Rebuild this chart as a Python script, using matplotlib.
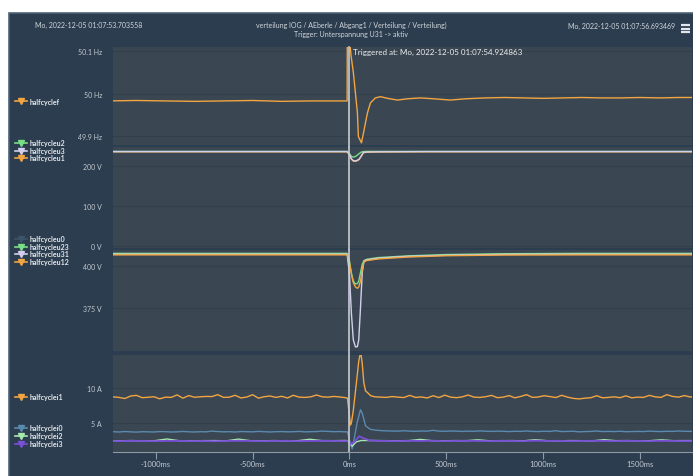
import matplotlib
matplotlib.use('Agg')
import matplotlib.pyplot as plt
from matplotlib.patches import Rectangle
import numpy as np

plt.rcParams['font.family'] = ['Lato', 'DejaVu Sans']

# ---- data (ms relative to trigger) ----
x_range = (-1221, 1769)
x_ticks = [-1000, -500, 0, 500, 1000, 1500]

# frequency
f_t = [-1250, -1100, -950, -800, -650, -500, -350, -200, -100, -12,
       -11, 2, 8, 20, 41, 46, 62, 72, 93, 108, 134, 160, 196, 248, 299,
       367, 434, 521, 600, 700, 800, 900, 1000, 1100, 1200, 1300, 1400,
       1500, 1600, 1700, 1800]
f_vals = [49.983, 49.984, 49.983, 49.982, 49.983, 49.984, 49.982, 49.983, 49.983, 49.983,
          50.13, 50.12, 50.09, 50.05, 49.956, 49.90, 49.885, 49.907, 49.955, 49.978,
          49.990, 49.993, 49.989, 49.985, 49.988, 49.990, 49.988, 49.985, 49.988,
          49.990, 49.991, 49.990, 49.989, 49.990, 49.991, 49.990, 49.990, 49.991,
          49.990, 49.991, 49.991]

# phase voltages
u_ph_t = [-1250, -600, -12, 0, 10, 21, 35, 50, 62, 72, 90, 150, 400, 900, 1800]
u1_vals = [235.5, 235.5, 235.5, 228, 217, 212, 212, 216, 225, 233, 234.5, 235, 235.5, 235.5, 235.5]
u2_vals = [236.5, 236.5, 236.5, 231, 224, 222, 225, 231, 235, 236, 236.5, 236.5, 236.5, 236.5, 236.5]
u3_vals = [236, 236, 236, 229, 218, 213, 213, 217, 226, 234, 235, 235.5, 236, 236, 236]

# line voltages
u_ll_t = [-1250, -600, -12, 0, 10, 20, 31, 41, 48, 57, 66, 75, 90, 150, 300, 500, 800, 1200, 1800]
u0_vals = [0.3] * len(u_ll_t)
u23_vals = [407.5, 407.5, 407.5, 403, 396, 391, 389.3, 389.5, 391, 396, 401, 403.2, 404, 405, 406, 406.8, 407.3, 407.5, 407.5]
u31_vals = [407.0, 407.0, 407.0, 395, 372, 356, 351.8, 352, 356, 375, 396, 402.8, 403.6, 404.6, 405.7, 406.4, 406.9, 407.0, 407.0]
u12_vals = [406.6, 406.6, 406.6, 402, 395, 390, 387.5, 386.7, 387.5, 391, 398, 402.5, 403.2, 404.2, 405.3, 406.1, 406.5, 406.6, 406.6]

# currents: pre / around trigger / post
i1_pre = [8.70, 8.74, 8.66, 8.50, 8.86, 8.95, 8.62, 8.68, 8.76, 8.46,
          8.70, 8.66, 9.02, 8.55, 8.92, 8.68, 8.75, 8.80, 8.78, 9.05,
          8.66, 8.70, 8.96, 8.58, 8.72, 9.04, 8.55, 8.76, 8.86, 8.66,
          8.82, 8.58, 8.96, 8.70, 8.66, 8.74, 9.00, 8.74, 8.70, 8.80,
          8.72, 8.62]
i1_trig_t = [-10, 5, 10, 20, 35, 48, 55, 60, 66, 74, 83, 95, 110]
i1_trig = [8.55, 4.7, 5.0, 6.8, 10.5, 13.8, 14.8, 14.8, 13.5, 10.8, 9.6, 9.3, 8.9]
i1_post = [8.75, 8.70, 8.66, 8.78, 8.70, 8.64, 8.95, 8.66, 8.72, 8.58,
           8.90, 8.64, 8.98, 8.70, 8.62, 8.74, 9.00, 8.70, 8.66, 8.76,
           8.95, 8.62, 8.70, 8.92, 8.60, 8.80, 9.05, 8.66, 8.72, 8.90,
           8.78, 8.64, 8.96, 8.70, 8.52, 8.45, 8.55, 8.62, 8.90, 8.60,
           8.66, 8.74, 8.62, 8.88, 8.60, 8.70, 8.66, 8.95, 8.74, 8.66,
           9.05, 8.80, 8.70, 8.92, 8.72, 8.78]

i0_pre = [3.74, 3.76, 3.72, 3.78, 3.74, 3.70, 3.76, 3.74, 3.72, 3.78,
          3.76, 3.72, 3.74, 3.80, 3.74, 3.72, 3.76, 3.74, 3.84, 3.78,
          3.74, 3.76, 3.72, 3.78, 3.76, 3.74, 3.80, 3.76, 3.72, 3.76,
          3.78, 3.74, 3.76, 3.80, 3.74, 3.76, 3.78, 3.84, 3.80, 3.76,
          3.78, 3.74]
i0_trig_t = [-10, 5, 14, 25, 40, 57, 66, 74, 83, 108]
i0_trig = [3.74, 2.0, 1.3, 2.8, 5.1, 6.9, 6.4, 5.6, 4.6, 4.1]
i0_post = [4.00, 3.92, 3.88, 3.86, 3.84, 3.90, 3.84, 3.82, 3.86, 3.84,
           3.96, 3.84, 3.82, 3.86, 3.84, 3.80, 3.84, 3.82, 3.88, 3.82,
           3.80, 3.84, 3.82, 3.78, 3.82, 3.80, 3.86, 3.80, 3.78, 3.82,
           3.80, 3.90, 3.78, 3.80, 3.82, 3.74, 3.78, 3.80, 3.86, 3.78,
           3.80, 3.78, 3.82, 3.76, 3.78, 3.80, 3.78, 3.84, 3.80, 3.78,
           3.82, 3.80, 3.86, 3.82, 3.80, 3.82]

i2_pre = [2.48, 2.46, 2.49, 2.46, 2.48, 2.72, 2.48, 2.46, 2.48, 2.49,
          2.46, 2.70, 2.48, 2.46, 2.49, 2.46, 2.48, 2.68, 2.49, 2.48, 2.50]
i2_trig_t = [-10, 5, 15, 35, 60]
i2_trig = [2.48, 2.0, 1.7, 2.3, 2.5]
i2_post = [2.50, 2.48, 2.46, 2.49, 2.66, 2.48, 2.46, 2.49, 2.48, 2.60,
           2.46, 2.48, 2.49, 2.46, 2.62, 2.48, 2.46, 2.49, 2.48, 2.46,
           2.62, 2.48, 2.49, 2.46, 2.48, 2.60, 2.48, 2.49, 2.48]

i3_pre = [2.44, 2.42, 2.46, 2.44, 2.42, 2.44, 2.46, 2.42, 2.44, 2.40,
          2.44, 2.46, 2.44, 2.42, 2.44, 2.46, 2.42, 2.44, 2.46, 2.44, 2.42]
i3_trig_t = [-10, 5, 25, 50, 75, 100]
i3_trig = [2.44, 2.0, 2.3, 3.1, 2.8, 2.55]
i3_post = [2.46, 2.44, 2.42, 2.46, 2.44, 2.48, 2.42, 2.44, 2.46, 2.44,
           2.42, 2.46, 2.44, 2.42, 2.48, 2.44, 2.46, 2.42, 2.44, 2.46,
           2.44, 2.42, 2.46, 2.44, 2.42, 2.46, 2.44, 2.42, 2.44]


def join(pre, trig_t, trig, post):
    t = np.concatenate([np.linspace(-1250, -20, len(pre)), trig_t,
                        np.linspace(130, 1790, len(post))])
    v = np.concatenate([pre, trig, post])
    return t, v


# ---- style ----
PANEL = '#2c3d4f'
PLOT_BG = '#3a4652'
GRID = '#333e49'
TXT = '#c3c9cf'
ORANGE = '#f2a541'
GREEN = '#78df86'
LAV = '#d4cfee'
DARKBLUE = '#3c5468'
BLUE = '#5a8ab0'
LGREEN = '#a6e8b0'
PURPLE = '#7a50d8'

W, H = 693, 477
fig = plt.figure(figsize=(W / 100, H / 100), dpi=100)
fig.patch.set_facecolor('white')

bg = fig.add_axes([0, 0, 1, 1], zorder=-10)
bg.set_xlim(0, W)
bg.set_ylim(H, 0)
bg.axis('off')
bg.add_patch(Rectangle((8.5, 13.5), 700, 480, facecolor=PANEL,
                       edgecolor='#4d6379', lw=1.2))


def px_axes(top, bottom):
    ax = fig.add_axes([113 / W, 1 - bottom / H, 579 / W, (bottom - top) / H])
    ax.set_facecolor(PLOT_BG)
    for s in ax.spines.values():
        s.set_visible(False)
    ax.set_xlim(*x_range)
    ax.yaxis.grid(True, color=GRID, lw=0.8)
    ax.set_axisbelow(True)
    ax.tick_params(axis='y', length=0, labelsize=5, labelcolor=TXT, pad=8)
    ax.tick_params(axis='x', length=0, labelbottom=False)
    return ax


lw = 1.0

# panel 1: frequency
ax1 = px_axes(48, 146)
ax1.plot(f_t, f_vals, color=ORANGE, lw=lw)
ax1.set_ylim(49.88, 50.109)
ax1.set_yticks([49.9, 50.0, 50.1], ['49.9 Hz', '50 Hz', '50.1 Hz'])

# panel 2: phase voltages
ax2 = px_axes(148, 249)
ax2.plot(u_ph_t, u2_vals, color=GREEN, lw=lw, zorder=2)
ax2.plot(u_ph_t, u1_vals, color=ORANGE, lw=lw, zorder=3)
ax2.plot(u_ph_t, u3_vals, color=LAV, lw=lw, zorder=4)
ax2.set_ylim(-5, 247.5)
ax2.set_yticks([0, 100, 200], ['0 V', '100 V', '200 V'])

# panel 3: line voltages
ax3 = px_axes(251, 352)
ax3.plot(u_ll_t, u0_vals, color=DARKBLUE, lw=lw)
ax3.plot(u_ll_t, u23_vals, color=GREEN, lw=lw)
ax3.plot(u_ll_t, u31_vals, color=LAV, lw=lw)
ax3.plot(u_ll_t, u12_vals, color=ORANGE, lw=lw)
ax3.set_ylim(349.4, 409.5)
ax3.set_yticks([375, 400], ['375 V', '400 V'])

# panel 4: currents
ax4 = px_axes(356, 453)
for pre, tt, tv, post, c, w in [(i1_pre, i1_trig_t, i1_trig, i1_post, ORANGE, lw),
                                (i0_pre, i0_trig_t, i0_trig, i0_post, BLUE, lw),
                                (i2_pre, i2_trig_t, i2_trig, i2_post, LGREEN, lw),
                                (i3_pre, i3_trig_t, i3_trig, i3_post, PURPLE, 1.3)]:
    t, v = join(pre, tt, tv, post)
    ax4.plot(t, v, color=c, lw=w)
ax4.set_ylim(0.86, 14.72)
ax4.set_yticks([5, 10], ['5 A', '10 A'])
ax4.spines['bottom'].set_visible(True)
ax4.spines['bottom'].set_color('#8d99a5')
ax4.set_xticks(x_ticks, [f'{v}ms' for v in x_ticks])
ax4.tick_params(axis='x', length=5, width=0.8, color='#8d99a5',
                labelbottom=True, labelsize=5.5, labelcolor=TXT, pad=1)

# trigger line across all panels
for ax in (ax1, ax2, ax3):
    ax.axvline(0, ymin=-0.04, ymax=1, color='#c8ccd2', lw=1.2, zorder=6, clip_on=False)
ax4.axvline(0, color='#c8ccd2', lw=1.2, zorder=6)

fig.text(353 / W, 1 - 52 / H, 'Triggered at: Mo, 2022-12-05 01:07:54.924863',
         fontsize=5.8, color='#eef0f2', va='center', ha='left')

# header
bg.text(35, 25, 'Mo, 2022-12-05 01:07:53.703558', fontsize=5, color='#d2d7dc', va='center')
bg.text(351, 25, 'verteilung IOG / AEberle / Abgang1 / Verteilung / Verteilung)',
        fontsize=5, color='#d2d7dc', va='center', ha='center')
bg.text(351, 34, 'Trigger: Unterspannung U31 -> aktiv',
        fontsize=5, color='#d2d7dc', va='center', ha='center')
bg.text(675, 26, 'Mo, 2022-12-05 01:07:56.693469', fontsize=5, color='#d2d7dc',
        va='center', ha='right')
for yy in (26, 29.5, 33):
    bg.plot([680.5, 690], [yy, yy], color='#e2e6ea', lw=1.6, solid_capstyle='butt')

# legends
legend_items = [
    (102, ORANGE, 'halfcyclef'),
    (144, GREEN, 'halfcycleu2'), (151.5, LAV, 'halfcycleu3'), (159, ORANGE, 'halfcycleu1'),
    (240, DARKBLUE, 'halfcycleu0'), (247.5, GREEN, 'halfcycleu23'),
    (255, LAV, 'halfcycleu31'), (262.5, ORANGE, 'halfcycleu12'),
    (398, ORANGE, 'halfcyclei1'),
    (429, BLUE, 'halfcyclei0'), (437, LGREEN, 'halfcyclei2'), (445, PURPLE, 'halfcyclei3'),
]
for yy, c, lab in legend_items:
    bg.plot([15, 27], [yy, yy], color=c, lw=1.2)
    bg.plot([21], [yy], marker='v', ms=4, color=c, mec=c)
    bg.text(29.5, yy, lab, fontsize=5, fontweight='bold', color='#e4e7ea', va='center')

fig.savefig('out.png', dpi=100, facecolor=fig.get_facecolor())
